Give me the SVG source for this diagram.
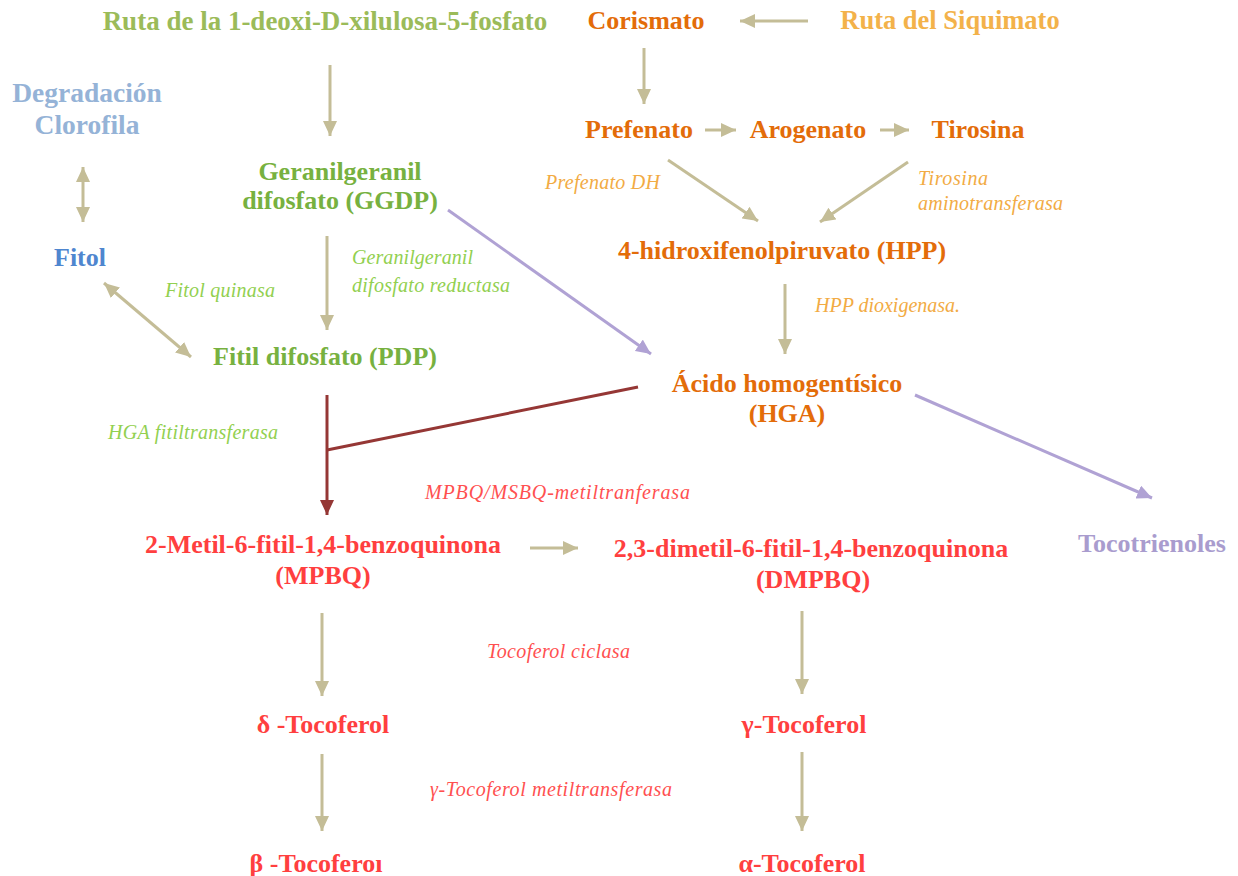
<svg xmlns="http://www.w3.org/2000/svg" width="1238" height="876" viewBox="0 0 1238 876">
<defs>
<style>
.n{font-family:"Liberation Serif","Times New Roman",serif;font-weight:bold;font-size:26px;text-anchor:middle}
.l{font-family:"Liberation Serif","Times New Roman",serif;font-style:italic;font-size:20px}
.or{fill:#e36c09}.gr{fill:#77b140}.rd{fill:#ff3f3f}
.lg{fill:#92d050}.lo{fill:#f2ab44}.lr{fill:#ff5050}
.tan{stroke:#c4bd97;stroke-width:3;fill:none}
.pur{stroke:#b0a2d4;stroke-width:3;fill:none}
.dr{stroke:#953735;stroke-width:3;fill:none}
</style>
<marker id="aT" markerUnits="userSpaceOnUse" markerWidth="16" markerHeight="14" refX="15" refY="7" orient="auto-start-reverse"><path d="M0,0 L15,7 L0,14 z" fill="#c4bd97"/></marker>
<marker id="aP" markerUnits="userSpaceOnUse" markerWidth="16" markerHeight="14" refX="15" refY="7" orient="auto"><path d="M0,0 L15,7 L0,14 z" fill="#b0a2d4"/></marker>
<marker id="aR" markerUnits="userSpaceOnUse" markerWidth="16" markerHeight="14" refX="15" refY="7" orient="auto"><path d="M0,0 L15,7 L0,14 z" fill="#953735"/></marker>
</defs>
<rect width="1238" height="876" fill="#ffffff"/>
<g id="connectors">
<line class="tan" x1="330" y1="65" x2="330" y2="136" marker-end="url(#aT)"/>
<line class="tan" x1="808" y1="21" x2="740" y2="21" marker-end="url(#aT)"/>
<line class="tan" x1="644" y1="48" x2="644" y2="104" marker-end="url(#aT)"/>
<line class="tan" x1="83" y1="167" x2="83" y2="222" marker-start="url(#aT)" marker-end="url(#aT)"/>
<line class="tan" x1="705" y1="130" x2="736" y2="130" marker-end="url(#aT)"/>
<line class="tan" x1="880" y1="130" x2="909" y2="130" marker-end="url(#aT)"/>
<line class="tan" x1="668" y1="160" x2="758" y2="221" marker-end="url(#aT)"/>
<line class="tan" x1="908" y1="162" x2="820" y2="222" marker-end="url(#aT)"/>
<line class="tan" x1="327" y1="236" x2="327" y2="330" marker-end="url(#aT)"/>
<line class="tan" x1="104" y1="283" x2="191" y2="357" marker-start="url(#aT)" marker-end="url(#aT)"/>
<line class="pur" x1="448" y1="210" x2="651" y2="354" marker-end="url(#aP)"/>
<line class="tan" x1="785" y1="284" x2="785" y2="354" marker-end="url(#aT)"/>
<line class="dr" x1="327" y1="395" x2="327" y2="515" marker-end="url(#aR)"/>
<line class="dr" x1="327" y1="450" x2="638" y2="387"/>
<line class="pur" x1="915" y1="395" x2="1152" y2="498" marker-end="url(#aP)"/>
<line class="tan" x1="530" y1="548" x2="578" y2="548" marker-end="url(#aT)"/>
<line class="tan" x1="322" y1="613" x2="322" y2="696" marker-end="url(#aT)"/>
<line class="tan" x1="802" y1="611" x2="802" y2="694" marker-end="url(#aT)"/>
<line class="tan" x1="322" y1="754" x2="322" y2="831" marker-end="url(#aT)"/>
<line class="tan" x1="802" y1="752" x2="802" y2="831" marker-end="url(#aT)"/>
</g>
<g id="ruta-dxp"><text class="n" x="325" y="30" fill="#9bbb59" style="font-size:27px">Ruta de la 1-deoxi-D-xilulosa-5-fosfato</text></g>
<g id="corismato"><text class="n or" x="646" y="29">Corismato</text></g>
<g id="ruta-siquimato"><text class="n" x="950" y="29" fill="#f3b24a" style="font-size:26.5px">Ruta del Siquimato</text></g>
<g id="degradacion"><text class="n" x="87" y="102" fill="#95b3d7" style="font-size:27.5px">Degradación</text><text class="n" x="87" y="134" fill="#95b3d7" style="font-size:27.5px">Clorofila</text></g>
<g id="ggdp"><text class="n gr" x="340" y="180">Geranilgeranil</text><text class="n gr" x="340" y="209">difosfato (GGDP)</text></g>
<g id="prefenato"><text class="n or" x="639" y="138">Prefenato</text></g>
<g id="arogenato"><text class="n or" x="808" y="138">Arogenato</text></g>
<g id="tirosina"><text class="n or" x="978" y="138">Tirosina</text></g>
<g id="fitol"><text class="n" x="80" y="266" fill="#4f86cf">Fitol</text></g>
<g id="hpp"><text class="n or" x="782" y="259">4-hidroxifenolpiruvato (HPP)</text></g>
<g id="pdp"><text class="n gr" x="325" y="365">Fitil difosfato (PDP)</text></g>
<g id="hga"><text class="n or" x="787" y="392">Ácido homogentísico</text><text class="n or" x="787" y="422">(HGA)</text></g>
<g id="mpbq"><text class="n rd" x="323" y="553">2-Metil-6-fitil-1,4-benzoquinona</text><text class="n rd" x="323" y="584">(MPBQ)</text></g>
<g id="dmpbq"><text class="n rd" x="811" y="557">2,3-dimetil-6-fitil-1,4-benzoquinona</text><text class="n rd" x="813" y="588">(DMPBQ)</text></g>
<g id="tocotrienoles"><text class="n" x="1152" y="552" fill="#a99cce">Tocotrienoles</text></g>
<g id="delta"><text class="n rd" x="323" y="733">δ -Tocoferol</text></g>
<g id="gamma"><text class="n rd" x="804" y="733">γ-Tocoferol</text></g>
<g id="beta"><text class="n rd" x="316" y="872">β -Tocoferoı</text></g>
<g id="alpha"><text class="n rd" x="802" y="872">α-Tocoferol</text></g>
<g id="labels">
<text class="l lo" x="545" y="189" textLength="115">Prefenato DH</text>
<text class="l lo" x="918" y="185" textLength="70">Tirosina</text>
<text class="l lo" x="918" y="210" textLength="145">aminotransferasa</text>
<text class="l lg" x="352" y="264" textLength="121">Geranilgeranil</text>
<text class="l lg" x="352" y="292" textLength="158">difosfato reductasa</text>
<text class="l lg" x="165" y="297" textLength="110">Fitol quinasa</text>
<text class="l lo" x="815" y="312" textLength="145">HPP dioxigenasa.</text>
<text class="l lg" x="108" y="439" textLength="170">HGA fitiltransferasa</text>
<text class="l lr" x="425" y="499" textLength="265">MPBQ/MSBQ-metiltranferasa</text>
<text class="l lr" x="487" y="658" textLength="143">Tocoferol ciclasa</text>
<text class="l lr" x="430" y="796" textLength="242">γ-Tocoferol metiltransferasa</text>
</g>
</svg>
